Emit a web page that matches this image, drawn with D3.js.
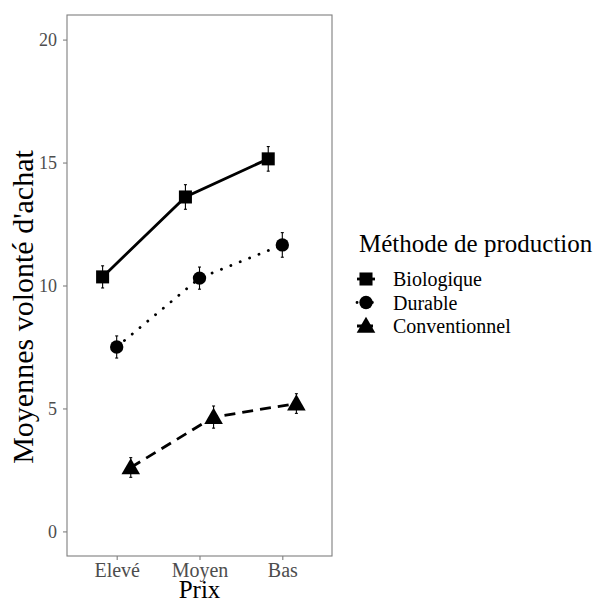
<!DOCTYPE html>
<html>
<head>
<meta charset="utf-8">
<script src="https://cdnjs.cloudflare.com/ajax/libs/d3/7.8.5/d3.min.js"></script>
<style>
  body { margin: 0; background: #fff; }
  svg text { font-family: "Liberation Serif", "DejaVu Serif", serif !important; }
</style>
</head>
<body>
<script>
// Data
var categories = ["Elevé", "Moyen", "Bas"];
var methods = ["Biologique", "Durable", "Conventionnel"];
var means = {
  Biologique: [10.35, 13.6, 15.15],
  Durable: [7.5, 10.3, 11.65],
  Conventionnel: [2.6, 4.65, 5.2]
};
var errors = {
  Biologique: [0.45, 0.5, 0.5],
  Durable: [0.45, 0.45, 0.5],
  Conventionnel: [0.4, 0.45, 0.4]
};
var yTicks = [0, 5, 10, 15, 20];

var svgWidth = 600, svgHeight = 602;
var margin = { top: 15, left: 67 };
var width = 265, height = 541;

var svg = d3.select("body").append("svg")
  .attr("width", svgWidth)
  .attr("height", svgHeight)
  .attr("font-family", "Liberation Serif");

var chartGroup = svg.append("g")
  .attr("transform", `translate(${margin.left}, ${margin.top})`);

var x = d3.scaleLinear().domain([0.4, 3.6]).range([0, width]);
var y = d3.scaleLinear().domain([-1, 21]).range([height, 0]);

var dodge = { Biologique: -0.17, Durable: 0, Conventionnel: 0.17 };
var dash = { Biologique: null, Durable: "0.1 10", Conventionnel: "11 7" };
var lineCap = { Biologique: "butt", Durable: "round", Conventionnel: "butt" };

// Panel border
chartGroup.append("rect")
  .attr("width", width).attr("height", height)
  .attr("fill", "none").attr("stroke", "#7f7f7f").attr("stroke-width", 1.1);

// Axes
var leftAxis = d3.axisLeft(y).tickValues(yTicks).tickSize(4).tickPadding(6);
var bottomAxis = d3.axisBottom(x).tickValues([1, 2, 3])
  .tickFormat((d, i) => categories[i]).tickSize(4).tickPadding(3);

var yg = chartGroup.append("g").call(leftAxis);
var xg = chartGroup.append("g").attr("transform", `translate(0, ${height})`).call(bottomAxis);
[yg, xg].forEach(function(g) {
  g.attr("font-family", "Liberation Serif");
  g.select(".domain").remove();
  g.selectAll(".tick line").attr("stroke", "#7f7f7f").attr("stroke-width", 1.1);
  g.selectAll(".tick text").attr("fill", "#4d4d4d");
});
yg.selectAll(".tick text").style("font-size", "18px");
xg.selectAll(".tick text").style("font-size", "20px");

function symbolFor(m) {
  if (m === "Biologique") return d3.symbol(d3.symbolSquare, 170)();
  if (m === "Durable") return d3.symbol(d3.symbolCircle, 140)();
  return d3.symbol(d3.symbolTriangle, 150)();
}

methods.forEach(function(m) {
  var pts = categories.map((c, i) => ({ i: i + 1, v: means[m][i], e: errors[m][i] }));
  var line = d3.line().x(d => x(d.i + dodge[m])).y(d => y(d.v));

  chartGroup.append("path")
    .attr("d", line(pts))
    .attr("fill", "none").attr("stroke", "#000").attr("stroke-width", 2.8)
    .attr("stroke-linecap", lineCap[m])
    .attr("stroke-dasharray", dash[m]);

  // error bars
  pts.forEach(function(d) {
    var cx = x(d.i + dodge[m]);
    var g = chartGroup.append("g").attr("stroke", "#000").attr("stroke-width", 1.1);
    g.append("line").attr("x1", cx).attr("x2", cx).attr("y1", y(d.v - d.e)).attr("y2", y(d.v + d.e));
    g.append("line").attr("x1", cx - 1.5).attr("x2", cx + 1.5).attr("y1", y(d.v - d.e)).attr("y2", y(d.v - d.e));
    g.append("line").attr("x1", cx - 1.5).attr("x2", cx + 1.5).attr("y1", y(d.v + d.e)).attr("y2", y(d.v + d.e));
  });

  chartGroup.selectAll(".pt-" + m)
    .data(pts).enter()
    .append("path")
    .attr("transform", d => `translate(${x(d.i + dodge[m])}, ${y(d.v) + (m === "Conventionnel" ? 1.5 : 0)})`)
    .attr("d", symbolFor(m))
    .attr("fill", "#000");
});

// Axis titles
svg.append("text")
  .attr("x", margin.left + width / 2).attr("y", 598)
  .attr("text-anchor", "middle").style("font-size", "25px")
  .text("Prix");

svg.append("text")
  .attr("transform", "translate(33, 307) rotate(-90)")
  .attr("text-anchor", "middle").style("font-size", "30px")
  .text("Moyennes volonté d'achat");

// Legend
var legend = svg.append("g").attr("transform", "translate(355, 0)");
legend.append("text").attr("x", 4).attr("y", 252)
  .style("font-size", "25px").text("Méthode de production");

methods.forEach(function(m, i) {
  var ly = 279 + i * 23.5;
  var key = legend.append("g").attr("transform", `translate(11, ${ly})`);
  key.append("line").attr("x1", -9).attr("x2", 9).attr("y1", 0).attr("y2", 0)
    .attr("stroke", "#000").attr("stroke-width", 2.8)
    .attr("stroke-dasharray", m === "Durable" ? "0.1 5" : (m === "Conventionnel" ? "6 4" : null))
    .attr("stroke-linecap", lineCap[m]);
  key.append("path")
    .attr("transform", m === "Conventionnel" ? "translate(0,1.5)" : null)
    .attr("d", symbolFor(m)).attr("fill", "#000");
  legend.append("text").attr("x", 38).attr("y", ly + 7)
    .style("font-size", "20px").text(m);
});
</script>
</body>
</html>
